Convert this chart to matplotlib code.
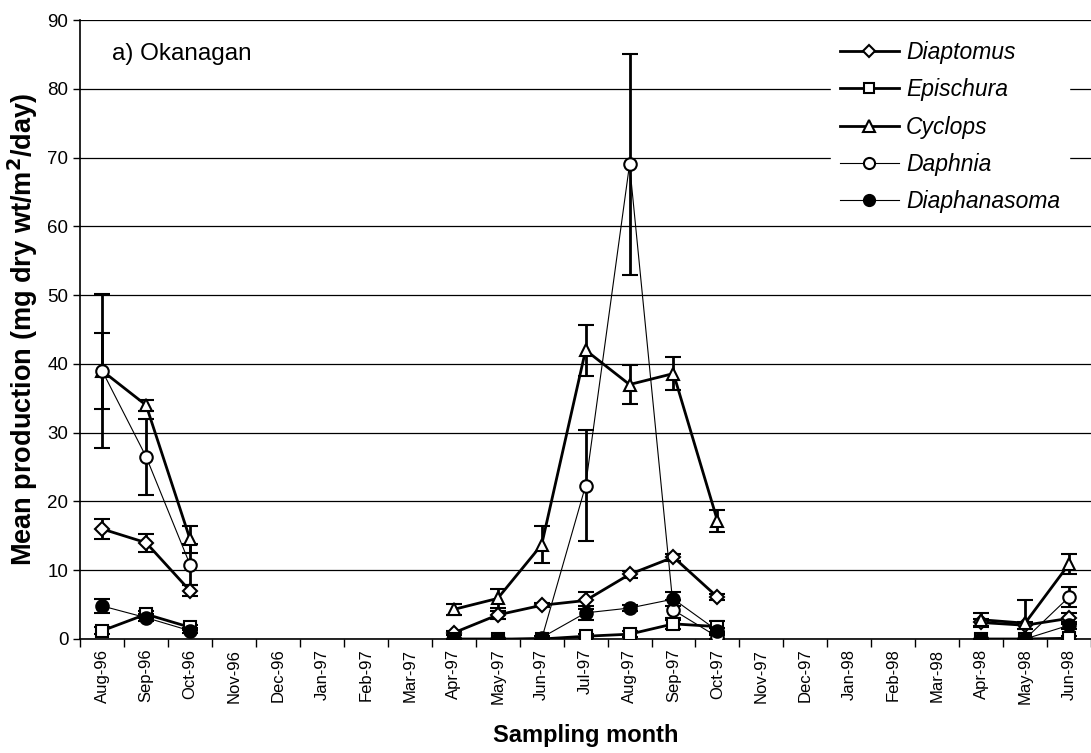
import numpy as np
import matplotlib
matplotlib.use("Agg")
import matplotlib.pyplot as plt
from matplotlib.lines import Line2D

plt.rcParams["font.family"] = ["Liberation Sans", "DejaVu Sans"]

# sampling months (gaps = no sampling)
months = ["Aug-96", "Sep-96", "Oct-96", "Nov-96", "Dec-96", "Jan-97", "Feb-97", "Mar-97",
          "Apr-97", "May-97", "Jun-97", "Jul-97", "Aug-97", "Sep-97", "Oct-97", "Nov-97",
          "Dec-97", "Jan-98", "Feb-98", "Mar-98", "Apr-98", "May-98", "Jun-98"]
nan = np.nan

# mean production (mg dry wt/m2/day)
diaptomus = [16.0, 14.0, 7.0, nan, nan, nan, nan, nan, 0.9, 3.5, 4.9, 5.6, 9.4, 11.9, 6.1,
             nan, nan, nan, nan, nan, 2.4, 2.0, 3.0]
diaptomus_err = [1.5, 1.3, 0.8, nan, nan, nan, nan, nan, 0.3, 0.6, 0.3, 1.2, 0.5, 0.5, 0.5,
                 nan, nan, nan, nan, nan, 0.5, 0.5, 0.8]

epischura = [1.2, 3.6, 1.7, nan, nan, nan, nan, nan, 0.0, 0.0, 0.0, 0.4, 0.7, 2.2, 1.8,
             nan, nan, nan, nan, nan, 0.0, 0.0, 0.1]
epischura_err = [0.5, 0.5, 0.4, nan, nan, nan, nan, nan, 0.0, 0.0, 0.0, 0.3, 0.4, 0.8, 0.8,
                 nan, nan, nan, nan, nan, 0.0, 0.0, 0.3]

cyclops = [39.0, 34.0, 14.5, nan, nan, nan, nan, nan, 4.3, 5.9, 13.7, 42.0, 37.0, 38.6, 17.2,
           nan, nan, nan, nan, nan, 2.8, 2.3, 10.9]
cyclops_err = [5.5, 0.8, 2.0, nan, nan, nan, nan, nan, 0.8, 1.4, 2.7, 3.7, 2.8, 2.4, 1.6,
               nan, nan, nan, nan, nan, 1.0, 3.4, 1.5]

daphnia = [39.0, 26.5, 10.8, nan, nan, nan, nan, nan, 0.0, 0.0, 0.0, 22.3, 69.0, 4.2, 0.3,
           nan, nan, nan, nan, nan, 0.0, 0.0, 6.1]
daphnia_err = [11.2, 5.5, 3.0, nan, nan, nan, nan, nan, 0.0, 0.0, 0.0, 8.1, 16.1, 1.5, 0.3,
               nan, nan, nan, nan, nan, 0.0, 0.0, 1.5]

diaphanasoma = [4.8, 3.1, 1.2, nan, nan, nan, nan, nan, 0.0, 0.0, 0.2, 3.8, 4.5, 5.8, 1.2,
                nan, nan, nan, nan, nan, 0.0, 0.0, 2.0]
diaphanasoma_err = [1.0, 0.5, 0.4, nan, nan, nan, nan, nan, 0.0, 0.0, 0.2, 1.0, 0.4, 1.0, 0.4,
                    nan, nan, nan, nan, nan, 0.0, 0.0, 0.5]

series = [
    ("Diaptomus", diaptomus, diaptomus_err, "D", 7, "white", 2.0),
    ("Epischura", epischura, epischura_err, "s", 8, "white", 2.0),
    ("Cyclops", cyclops, cyclops_err, "^", 9, "white", 2.0),
    ("Daphnia", daphnia, daphnia_err, "o", 9, "white", 0.8),
    ("Diaphanasoma", diaphanasoma, diaphanasoma_err, "o", 9, "black", 0.8),
]

fig = plt.figure(figsize=(10.91, 7.53), dpi=100)
ax = fig.add_axes([0.0735, 0.1514, 0.9265, 0.822])

x = np.arange(len(months))
handles = []
for name, vals, err, mk, ms, fc, lw in series:
    ax.errorbar(x, vals, yerr=err, color="black", lw=lw, marker=mk, ms=ms,
                mfc=fc, mec="black", mew=1.5, elinewidth=2, capsize=6, capthick=2,
                zorder=3)
    handles.append(Line2D([], [], color="black", lw=lw, marker=mk, ms=ms - 1,
                          mfc=fc, mec="black", mew=1.5))

ax.set_xlim(-0.5, 22.23)
ax.set_ylim(0, 90)
ax.set_yticks(np.arange(0, 91, 10))
ax.tick_params(axis="y", labelsize=13.5, direction="out", length=5, width=1)
ax.set_xticks(x)
ax.set_xticklabels(months, rotation=90, fontsize=12)
ax.set_xticks(np.arange(-0.5, 22.6, 1), minor=True)
ax.tick_params(axis="x", which="major", length=0, pad=7)
ax.tick_params(axis="x", which="minor", length=6, width=1, direction="out")

ax.grid(axis="y", color="black", lw=0.9, zorder=0)
for side in ["top", "right"]:
    ax.spines[side].set_visible(False)
ax.spines["left"].set_linewidth(1.2)
ax.spines["bottom"].set_linewidth(1.2)

ax.set_ylabel("Mean production (mg dry wt/m$^\\mathbf{2}$/day)", fontsize=19.5, fontweight="bold",
              labelpad=5)
ax.set_xlabel("Sampling month", fontsize=17, fontweight="bold", labelpad=14)

ax.text(0.031, 0.945, "a) Okanagan", transform=ax.transAxes, fontsize=17.5, va="center")

leg = ax.legend(handles, [s[0] for s in series], loc="upper right",
                bbox_to_anchor=(0.99, 1.0), frameon=True,
                prop={"style": "italic", "size": 16.5}, handlelength=2.6,
                labelspacing=0.63, borderpad=0.4, handletextpad=0.3)
leg.get_frame().set_edgecolor("white")
leg.get_frame().set_facecolor("white")
leg.get_frame().set_alpha(1)
leg.get_frame().set_boxstyle("square", pad=0)
leg.set_zorder(5)

fig.savefig("out.png", dpi=100)
